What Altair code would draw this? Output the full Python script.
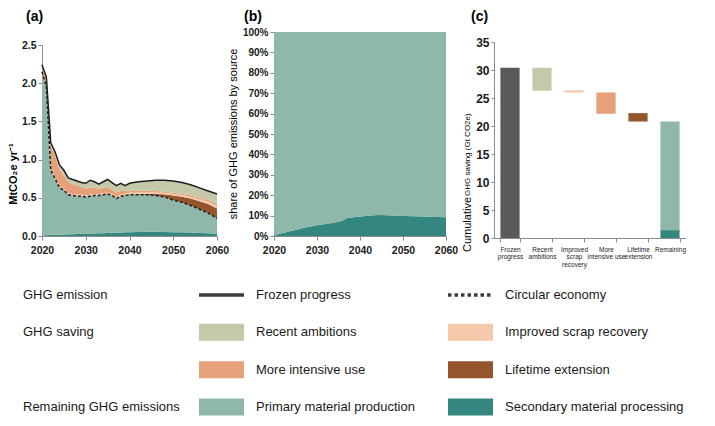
import altair as alt
import pandas as pd

# ---- panel (a): annual GHG emissions, MtCO2e per year ----
years = [2020, 2021, 2022, 2023, 2024, 2025, 2026, 2027, 2028, 2029, 2030,
         2031, 2032, 2033, 2034, 2035, 2036, 2037, 2038, 2039, 2040,
         2042, 2044, 2046, 2048, 2050, 2052, 2054, 2056, 2058, 2060]
frozen_progress = [2.24, 2.08, 1.22, 1.10, 0.93, 0.86, 0.76, 0.74, 0.72, 0.70, 0.69,
                   0.73, 0.71, 0.68, 0.71, 0.74, 0.70, 0.66, 0.69, 0.66, 0.69,
                   0.71, 0.72, 0.73, 0.73, 0.72, 0.70, 0.67, 0.63, 0.59, 0.55]
circular_economy = [2.15, 1.95, 0.86, 0.75, 0.63, 0.60, 0.54, 0.53, 0.52, 0.52, 0.51,
                    0.52, 0.53, 0.53, 0.54, 0.55, 0.53, 0.49, 0.52, 0.53, 0.54,
                    0.54, 0.54, 0.53, 0.51, 0.47, 0.44, 0.40, 0.35, 0.30, 0.23]
secondary_processing = [0.005, 0.010, 0.015, 0.017, 0.018, 0.020, 0.022, 0.024, 0.026, 0.028, 0.030,
                        0.032, 0.034, 0.035, 0.037, 0.040, 0.042, 0.045, 0.047, 0.048, 0.050,
                        0.052, 0.055, 0.055, 0.053, 0.050, 0.048, 0.045, 0.040, 0.035, 0.030]
lifetime_extension = [0, 0, 0, 0, 0, 0, 0, 0, 0, 0, 0,
                      0, 0, 0, 0, 0, 0, 0, 0, 0.002, 0.005,
                      0.008, 0.012, 0.020, 0.035, 0.060, 0.075, 0.090, 0.105, 0.120, 0.130]
scrap_recovery = [0.0, 0.01, 0.02, 0.02, 0.02, 0.02, 0.02, 0.02, 0.02, 0.02, 0.02,
                  0.02, 0.02, 0.02, 0.02, 0.02, 0.02, 0.02, 0.02, 0.02, 0.02,
                  0.02, 0.02, 0.02, 0.02, 0.02, 0.02, 0.025, 0.025, 0.03, 0.03]
intensive_use = [0.08, 0.11, 0.30, 0.28, 0.22, 0.18, 0.15, 0.13, 0.12, 0.10, 0.09,
                 0.09, 0.08, 0.07, 0.07, 0.07, 0.06, 0.06, 0.05, 0.04, 0.03,
                 0.025, 0.02, 0.02, 0.015, 0.015, 0.015, 0.02, 0.02, 0.025, 0.03]

# ---- panel (b): share of secondary processing in emissions, % ----
share_years = [2020, 2022, 2025, 2027, 2030, 2033, 2035, 2036, 2037, 2038,
               2040, 2043, 2045, 2048, 2050, 2053, 2055, 2058, 2060]
secondary_share = [0.3, 1.5, 3.0, 4.0, 5.3, 6.3, 7.0, 7.6, 8.8, 9.1,
                   9.6, 10.2, 10.3, 10.0, 9.8, 9.7, 9.5, 9.3, 9.2]

# ---- panel (c): cumulative GHG saving waterfall, Gt CO2e ----
steps = ["Frozen progress", "Recent ambitions", "Improved scrap recovery",
         "More intensive use", "Lifetime extension", "Remaining"]
step_ticks = ["Frozen|progress", "Recent|ambitions", "Improved|scrap|recovery",
              "More|intensive use", "Lifetime|extension", "Remaining"]
bar_step = ["Frozen progress", "Recent ambitions", "Improved scrap recovery",
            "More intensive use", "Lifetime extension", "Remaining", "Remaining"]
bar_low = [0, 26.3, 26.0, 22.2, 20.8, 1.4, 0]
bar_high = [30.4, 30.4, 26.4, 26.0, 22.3, 20.8, 1.4]
bar_layer = ["Frozen progress", "Recent ambitions", "Improved scrap recovery",
             "More intensive use", "Lifetime extension",
             "Primary material production", "Secondary material processing"]

# ---- legend ----
legend_groups = ["GHG emission", "GHG saving", "", "Remaining GHG emissions"]
legend_names = ["Frozen progress", "Circular economy", "Recent ambitions",
                "Improved scrap recovery", "More intensive use", "Lifetime extension",
                "Primary material production", "Secondary material processing"]
legend_row = [0, 0, 1, 1, 2, 2, 3, 3]
legend_col = [0, 1, 0, 1, 0, 1, 0, 1]

colors = {
    "Frozen progress": "#5a5a5a",
    "Recent ambitions": "#c6c9a9",
    "Improved scrap recovery": "#f6c9ab",
    "More intensive use": "#e6a07a",
    "Lifetime extension": "#94552d",
    "Primary material production": "#8fb8aa",
    "Secondary material processing": "#34877f",
}
FONT = "Liberation Sans"

# tables
layer_names = ["Secondary material processing", "Primary material production",
               "Lifetime extension", "Improved scrap recovery",
               "More intensive use", "Recent ambitions"]
rows = []
for i, yr in enumerate(years):
    b3 = circular_economy[i] + lifetime_extension[i]
    b4 = b3 + scrap_recovery[i]
    b5 = b4 + intensive_use[i]
    edges = [0, secondary_processing[i], circular_economy[i], b3, b4, b5, frozen_progress[i]]
    for k, name in enumerate(layer_names):
        rows.append({"year": yr, "layer": name, "lo": edges[k], "hi": edges[k + 1]})
df_a = pd.DataFrame(rows)
df_lines = pd.DataFrame({"year": years, "frozen": frozen_progress, "circular": circular_economy})

rows_b = []
for yr, s in zip(share_years, secondary_share):
    rows_b.append({"year": yr, "layer": "Secondary material processing", "lo": 0, "hi": s / 100})
    rows_b.append({"year": yr, "layer": "Primary material production", "lo": s / 100, "hi": 1})
df_b = pd.DataFrame(rows_b)

tick_of = dict(zip(steps, step_ticks))
df_c = pd.DataFrame({"step": [tick_of[s] for s in bar_step], "lo": bar_low,
                     "hi": bar_high, "layer": bar_layer})

df_leg = pd.DataFrame({"name": legend_names, "row": legend_row, "col": legend_col})
df_groups = pd.DataFrame({"name": legend_groups, "row": [0, 1, 2, 3]})

color_scale = alt.Scale(domain=list(colors.keys()), range=list(colors.values()))


def note(text, x, y, size, weight="normal", angle=0, align="left"):
    return alt.Chart(pd.DataFrame({"t": [text]})).mark_text(
        align=align, baseline="middle", fontSize=size, fontWeight=weight,
        angle=angle, color="black", font=FONT
    ).encode(x=alt.value(x), y=alt.value(y), text="t:N")


def anchor(y0, y1):
    # invisible box that fixes the left edge of each column
    return alt.Chart(pd.DataFrame({"t": [0]})).mark_rect(opacity=0).encode(
        x=alt.value(-33), x2=alt.value(0), y=alt.value(y0), y2=alt.value(y1))


year_axis = alt.Axis(values=[2020, 2030, 2040, 2050, 2060], format="d", title=None,
                     labelPadding=5, labelFontSize=10.5, labelFlush=False)

# panel (a)
xa = alt.X("year:Q", scale=alt.Scale(domain=[2020, 2060], range=[0, 175], nice=False, zero=False),
           axis=year_axis)
ya_scale = alt.Scale(domain=[0, 2.5], range=[204, 13], nice=False)
ya_axis = alt.Axis(values=[0, 0.5, 1, 1.5, 2, 2.5], format=".1f", title=None, labelFontSize=10.5)

areas_a = alt.Chart(df_a).mark_area().encode(
    x=xa,
    y=alt.Y("lo:Q", scale=ya_scale, axis=ya_axis),
    y2="hi:Q",
    color=alt.Color("layer:N", scale=color_scale, legend=None),
)
frozen_line = alt.Chart(df_lines).mark_line(color="#1e1e1e", strokeWidth=1.5).encode(
    x=xa, y=alt.Y("frozen:Q", scale=ya_scale, axis=ya_axis))
circular_line = alt.Chart(df_lines).mark_line(color="#1e1e1e", strokeWidth=1.5, strokeDash=[3, 2]).encode(
    x=xa, y=alt.Y("circular:Q", scale=ya_scale, axis=ya_axis))

panel_a = alt.layer(
    anchor(-24, 0), areas_a, frozen_line, circular_line,
    note("(a)", -16, -15, 14, "bold"),
    note("MtCO\u2082e yr\u207b\u00b9", -28, 142, 11, "bold", 270, "center"),
).properties(width=184, height=204)

# panel (b)
xb = alt.X("year:Q", scale=alt.Scale(domain=[2020, 2060], nice=False, zero=False), axis=year_axis)
areas_b = alt.Chart(df_b).mark_area().encode(
    x=xb,
    y=alt.Y("lo:Q", scale=alt.Scale(domain=[0, 1], nice=False),
            axis=alt.Axis(values=[i / 10 for i in range(11)], format=".0%", title=None,
                          labelFontSize=10)),
    y2="hi:Q",
    color=alt.Color("layer:N", scale=color_scale, legend=None),
)
panel_b = alt.layer(
    areas_b,
    note("(b)", -30, -15, 14, "bold"),
    note("share of GHG emissions by source", -40, 102, 11, "normal", 270, "center"),
).properties(width=172, height=204)

# panel (c)
bars_c = alt.Chart(df_c).mark_bar().encode(
    x=alt.X("step:N", sort=step_ticks,
            scale=alt.Scale(paddingInner=0.4, paddingOuter=0.2),
            axis=alt.Axis(title=None, labelAngle=0, labelFontSize=6.5, labelFontWeight="normal",
                          labelExpr="split(datum.label, '|')", tickBand="extent",
                          labelLineHeight=7.5, labelPadding=4, labelColor="#222222",
                          labelOverlap=False)),
    y=alt.Y("lo:Q", scale=alt.Scale(domain=[0, 35], range=[206, 10], nice=False),
            axis=alt.Axis(values=list(range(0, 40, 5)), title=None, labelFontSize=12,
                          tickSize=3, labelPadding=2)),
    y2="hi:Q",
    color=alt.Color("layer:N", scale=color_scale, legend=None),
)
panel_c = alt.layer(
    bars_c,
    note("(c)", -23, -15, 14, "bold"),
    note("Cumulative", -26, 220, 11, "normal", 270),
    note("GHG saving (Gt CO2e)", -26, 164, 8, "normal", 270),
).properties(width=192, height=206)

# legend
lx = alt.X("col:Q", scale=alt.Scale(domain=[0, 1], range=[179.5, 428.5]), axis=None)
ly = alt.Y("row:Q", scale=alt.Scale(domain=[0, 3], range=[17, 129]), axis=None)
leg = alt.Chart(df_leg)
swatches = leg.transform_filter("datum.row > 0").mark_rule(
    xOffset=-22.5, x2Offset=22.5, strokeWidth=17).encode(
    x=lx, x2="col:Q", y=ly, color=alt.Color("name:N", scale=color_scale, legend=None))
solid_key = leg.transform_filter("datum.name == 'Frozen progress'").mark_rule(
    xOffset=-22.5, x2Offset=22.5, strokeWidth=3.5, color="#3c3c3c").encode(x=lx, x2="col:Q", y=ly)
dotted_key = leg.transform_filter("datum.name == 'Circular economy'").mark_rule(
    xOffset=-22.5, x2Offset=20, strokeWidth=3.5, strokeDash=[3.5, 3], color="#3c3c3c").encode(
    x=lx, x2="col:Q", y=ly)
names = leg.mark_text(align="left", baseline="middle", dx=34.5, fontSize=13, font=FONT,
                      color="#1a1a1a").encode(x=lx, y=ly, text="name:N")
groups = alt.Chart(df_groups).mark_text(align="left", baseline="middle", fontSize=13, font=FONT,
                                        color="#1a1a1a").encode(x=alt.value(-19), y=ly, text="name:N")
legend = alt.layer(anchor(0, 140), swatches, solid_key, dotted_key, names, groups).properties(
    width=640, height=140)

top = alt.hconcat(panel_a, panel_b, panel_c, spacing=48, bounds="flush")
chart = alt.vconcat(top, legend, spacing=10).properties(
    padding=0
).configure(font=FONT).configure_view(stroke=None).configure_axis(
    domainColor="#8c8c8c", tickColor="#8c8c8c", tickSize=4, labelColor="#1a1a1a",
    labelFont=FONT, labelFontWeight="bold", grid=False,
)

chart.save("out.html", embed_options={"renderer": "svg", "actions": False})
